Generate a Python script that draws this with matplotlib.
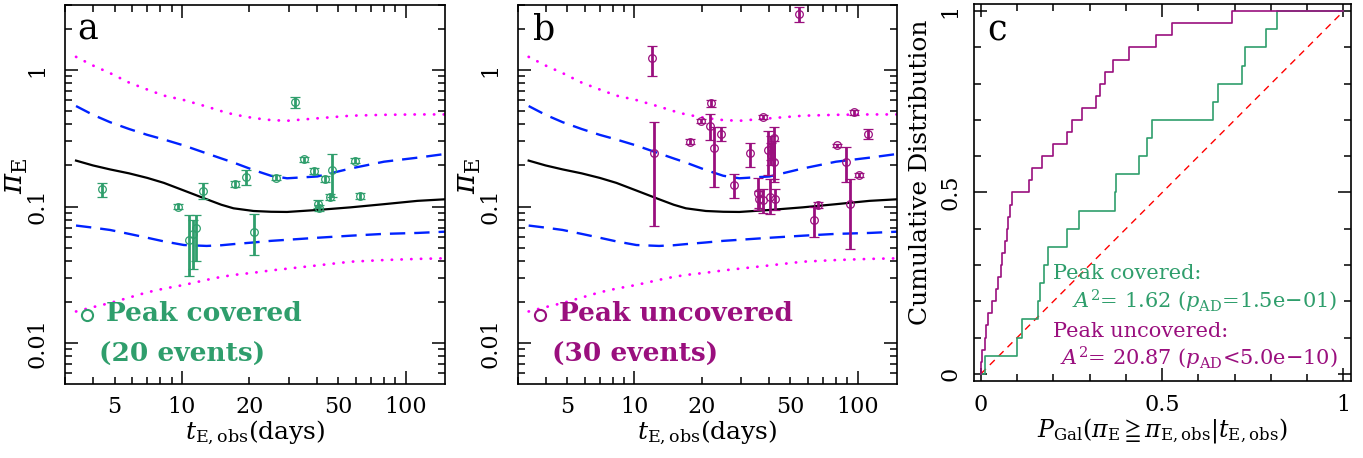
import numpy as np
import matplotlib
matplotlib.use('Agg')
import matplotlib.pyplot as plt
from matplotlib.ticker import FixedLocator, NullFormatter, FixedFormatter

plt.rcParams['font.family'] = ['DejaVu Serif']
plt.rcParams['mathtext.fontset'] = 'dejavuserif'

GREEN = '#2f9e6c'
PURPLE = '#9a0f7e'

# model curves (same in panels a and b)
t_curve = [3.36, 4.0, 4.77, 5.8, 7.0, 8.3, 10.2, 12.9, 15.0, 17.0, 20.9, 25.0, 29.5, 40.3, 56.8, 80, 113, 151]
med_curve = [0.217, 0.200, 0.187, 0.175, 0.162, 0.149, 0.131, 0.113, 0.103, 0.097, 0.0927, 0.0915, 0.0912, 0.0943,
             0.0986, 0.104, 0.110, 0.113]
s1_hi = [0.545, 0.47, 0.415, 0.37, 0.335, 0.31, 0.28, 0.245, 0.225, 0.21, 0.185, 0.168, 0.161, 0.166, 0.19, 0.213,
         0.228, 0.243]
s1_lo = [0.0725, 0.070, 0.0673, 0.063, 0.059, 0.0555, 0.0522, 0.0514, 0.052, 0.053, 0.0545, 0.056, 0.057, 0.059,
         0.0611, 0.063, 0.064, 0.0654]
s2_hi = [1.25, 1.08, 0.95, 0.81, 0.72, 0.65, 0.603, 0.54, 0.50, 0.473, 0.445, 0.43, 0.425, 0.443, 0.463, 0.47,
         0.473, 0.473]
s2_lo = [0.0170, 0.0183, 0.0196, 0.0215, 0.0235, 0.025, 0.0266, 0.029, 0.0305, 0.0315, 0.0327, 0.034, 0.035, 0.037,
         0.0394, 0.0405, 0.0413, 0.0417]

# peak covered events (20)
t_cov = [4.41, 9.56, 10.8, 11.2, 11.5, 12.4, 17.2, 19.4, 21.1, 26.4, 32.1, 35.3, 39.1, 40.6, 41.2, 43.4, 45.7, 47.0, 59.2, 62.8]
pi_cov = [0.134, 0.100, 0.057, 0.063, 0.070, 0.130, 0.146, 0.164, 0.065, 0.163, 0.58, 0.222, 0.182, 0.104, 0.097, 0.159, 0.118, 0.185, 0.217, 0.119]
lo_cov = [0.117, 0.096, 0.031, 0.035, 0.040, 0.113, 0.139, 0.143, 0.044, 0.156, 0.524, 0.212, 0.174, 0.098, 0.092, 0.152, 0.112, 0.118, 0.209, 0.113]
hi_cov = [0.149, 0.104, 0.086, 0.080, 0.086, 0.148, 0.153, 0.184, 0.088, 0.170, 0.64, 0.232, 0.190, 0.111, 0.103, 0.166, 0.124, 0.242, 0.225, 0.125]

# peak uncovered events (30)
t_unc = [54.8, 11.96, 12.2, 17.7, 19.9, 22.0, 21.7, 22.8, 24.5, 27.9, 33.0, 37.6, 35.7, 36.0, 37.8, 40.3, 39.6, 40.7, 42.1, 42.1,
         42.7, 63.8, 66.2, 80.5, 88.7, 92.4, 101, 96.6, 111, 41.0]
pi_unc = [2.56, 1.22, 0.245, 0.299, 0.423, 0.570, 0.391, 0.267, 0.338, 0.144, 0.245, 0.45, 0.126, 0.113, 0.112, 0.118, 0.259, 0.274, 0.316, 0.213,
          0.113, 0.0797, 0.1026, 0.282, 0.213, 0.104, 0.170, 0.49, 0.338, 0.24]
lo_unc = [2.25, 0.904, 0.0716, 0.285, 0.410, 0.540, 0.307, 0.14, 0.30, 0.115, 0.196, 0.435, 0.094, 0.098, 0.090, 0.088, 0.17, 0.22, 0.16, 0.15,
          0.095, 0.0602, 0.097, 0.275, 0.152, 0.0485, 0.165, 0.47, 0.31, 0.20]
hi_unc = [2.88, 1.51, 0.418, 0.315, 0.436, 0.600, 0.48, 0.384, 0.38, 0.173, 0.294, 0.465, 0.163, 0.13, 0.135, 0.16, 0.36, 0.33, 0.38, 0.30,
          0.135, 0.0995, 0.108, 0.289, 0.272, 0.159, 0.175, 0.51, 0.37, 0.29]

# P_Gal values for cumulative distributions
p_cov = [0.010, 0.098, 0.112, 0.157, 0.163, 0.174, 0.185, 0.236, 0.270, 0.371, 0.372, 0.436, 0.459, 0.471,
         0.640, 0.654, 0.720, 0.727, 0.787, 0.816]
p_unc = [0.001, 0.003, 0.010, 0.013, 0.019, 0.031, 0.042, 0.048, 0.054, 0.059, 0.065, 0.071, 0.075, 0.080, 0.085,
         0.132, 0.1415, 0.169, 0.1985, 0.238, 0.25, 0.2775, 0.316, 0.329, 0.341, 0.364, 0.408, 0.484, 0.528, 0.692]

fig = plt.figure(figsize=(13.63, 4.58), dpi=100)
ax_a = fig.add_axes([0.0477, 0.1616, 0.2788, 0.8275])
ax_b = fig.add_axes([0.3798, 0.1616, 0.2783, 0.8275])
ax_c = fig.add_axes([0.7144, 0.1681, 0.2766, 0.8232])


def common_ticks(ax, ypad=12):
    ax.tick_params(which='both', direction='in', top=True, right=True, labelsize=16, width=1.1)
    ax.tick_params(which='major', length=9.5)
    ax.tick_params(which='minor', length=5)
    ax.tick_params(axis='x', which='both', pad=9)
    ax.tick_params(axis='y', which='both', pad=ypad)
    for lab in ax.get_yticklabels():
        lab.set_rotation(90)
        lab.set_va('center')
    for sp in ax.spines.values():
        sp.set_linewidth(1.2)


def style_log(ax):
    ax.set_xscale('log')
    ax.set_yscale('log')
    ax.set_xlim(3, 150)
    ax.set_ylim(0.005, 3)
    ax.xaxis.set_major_locator(FixedLocator([10, 100]))
    ax.xaxis.set_minor_locator(FixedLocator([3, 4, 5, 6, 7, 8, 9, 20, 30, 40, 50, 60, 70, 80, 90]))
    ax.xaxis.set_major_formatter(FixedFormatter(['10', '100']))
    ax.xaxis.set_minor_formatter(FixedFormatter(['', '', '5', '', '', '', '', '20', '', '', '50', '', '', '', '']))
    ax.yaxis.set_major_locator(FixedLocator([0.01, 0.1, 1]))
    ax.yaxis.set_minor_locator(FixedLocator([0.006, 0.007, 0.008, 0.009] + [k * 0.01 for k in range(2, 10)] +
                                            [k * 0.1 for k in range(2, 10)] + [2, 3]))
    ax.yaxis.set_major_formatter(FixedFormatter(['0.01', '0.1', '1']))
    ax.yaxis.set_minor_formatter(NullFormatter())
    common_ticks(ax)
    ax.plot(t_curve, s2_hi, color='#ff00ff', lw=2.0, ls=(0, (0.1, 3.4)), dash_capstyle='round')
    ax.plot(t_curve, s2_lo, color='#ff00ff', lw=2.0, ls=(0, (0.1, 3.4)), dash_capstyle='round')
    ax.plot(t_curve, s1_hi, color='#0022ff', lw=1.7, ls=(0, (6.5, 3.8)))
    ax.plot(t_curve, s1_lo, color='#0022ff', lw=1.7, ls=(0, (6.5, 3.8)))
    ax.plot(t_curve, med_curve, color='black', lw=1.6)
    ax.set_xlabel(r'$t_{\rm E,obs}$(days)', fontsize=18, labelpad=0)
    ax.set_ylabel(r'$\pi_{\rm E}$', fontsize=22)
    ax.yaxis.set_label_coords(-0.092, 0.55)


def draw_points(ax, t, pi, lo, hi, color):
    pi = np.array(pi)
    yerr = [pi - np.array(lo), np.array(hi) - pi]
    ax.errorbar(t, pi, yerr=yerr, fmt='o', mfc='none', mec=color, ms=5.5, mew=0.9,
                ecolor=color, elinewidth=2.0, capsize=3.5, capthick=2.0, zorder=5)


style_log(ax_a)
draw_points(ax_a, t_cov, pi_cov, lo_cov, hi_cov, GREEN)
ax_a.text(0.033, 0.935, 'a', transform=ax_a.transAxes, fontsize=25, va='center')
ax_a.plot([0.058], [0.182], 'o', mfc='none', mec=GREEN, ms=8, mew=1.5, transform=ax_a.transAxes)
ax_a.text(0.108, 0.185, 'Peak covered', transform=ax_a.transAxes, fontsize=19, color=GREEN,
          fontweight='bold', va='center')
ax_a.text(0.09, 0.077, '(20 events)', transform=ax_a.transAxes, fontsize=19, color=GREEN,
          fontweight='bold', va='center')

style_log(ax_b)
draw_points(ax_b, t_unc, pi_unc, lo_unc, hi_unc, PURPLE)
ax_b.text(0.04, 0.935, 'b', transform=ax_b.transAxes, fontsize=25, va='center')
ax_b.plot([0.058], [0.182], 'o', mfc='none', mec=PURPLE, ms=8, mew=1.5, transform=ax_b.transAxes)
ax_b.text(0.108, 0.185, 'Peak uncovered', transform=ax_b.transAxes, fontsize=19, color=PURPLE,
          fontweight='bold', va='center')
ax_b.text(0.09, 0.077, '(30 events)', transform=ax_b.transAxes, fontsize=19, color=PURPLE,
          fontweight='bold', va='center')


def cdf(vals):
    v = np.sort(vals)
    n = len(v)
    x = np.concatenate([[0], v, [1]])
    y = np.concatenate([[0], np.arange(1, n + 1) / n, [1]])
    return x, y


ax_c.set_xlim(-0.02, 1.02)
ax_c.set_ylim(-0.02, 1.02)
ax_c.plot([0, 1], [0, 1], color='red', lw=1.0, ls=(0, (5, 4)))
xc, yc = cdf(p_cov)
ax_c.step(xc, yc, where='post', color=GREEN, lw=1.2)
xu, yu = cdf(p_unc)
ax_c.step(xu, yu, where='post', color=PURPLE, lw=1.2)
ax_c.xaxis.set_major_locator(FixedLocator([0, 0.5, 1]))
ax_c.xaxis.set_minor_locator(FixedLocator(np.arange(0.1, 1.0, 0.1)))
ax_c.yaxis.set_major_locator(FixedLocator([0, 0.5, 1]))
ax_c.yaxis.set_minor_locator(FixedLocator(np.arange(0.1, 1.0, 0.1)))
ax_c.xaxis.set_major_formatter(FixedFormatter(['0', '0.5', '1']))
ax_c.yaxis.set_major_formatter(FixedFormatter(['0', '0.5', '1']))
common_ticks(ax_c, ypad=9)
ax_c.text(0.035, 0.93, 'c', transform=ax_c.transAxes, fontsize=25, va='center')
ax_c.set_ylabel('Cumulative Distribution', fontsize=18)
ax_c.yaxis.set_label_coords(-0.11, 0.555)
ax_c.set_xlabel(r'$P_{\rm Gal}(\pi_{\rm E}\geqq\pi_{\rm E,obs}|t_{\rm E,obs})$', fontsize=17, labelpad=0)

ax_c.text(0.21, 0.285, 'Peak covered:', transform=ax_c.transAxes, fontsize=15, color=GREEN, va='center')
ax_c.text(0.965, 0.21, r'$A^2$= 1.62 ($p_{\rm AD}$=1.5e$-$01)', transform=ax_c.transAxes, fontsize=15,
          color=GREEN, va='center', ha='right')
ax_c.text(0.21, 0.13, 'Peak uncovered:', transform=ax_c.transAxes, fontsize=15, color=PURPLE, va='center')
ax_c.text(0.965, 0.06, r'$A^2$= 20.87 ($p_{\rm AD}$<5.0e$-$10)', transform=ax_c.transAxes, fontsize=15,
          color=PURPLE, va='center', ha='right')

fig.savefig('out.png', dpi=100)
